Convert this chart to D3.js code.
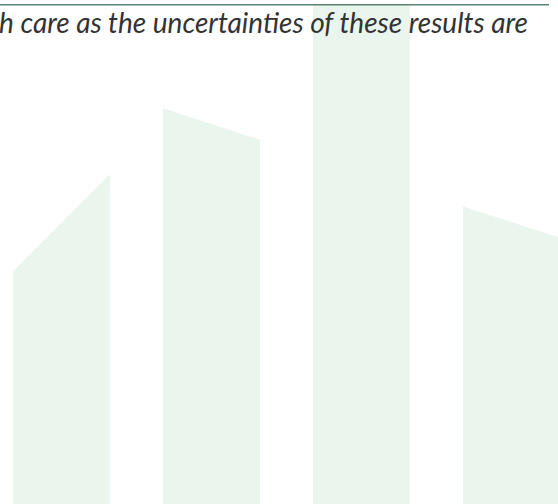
<!DOCTYPE html>
<meta charset="utf-8">
<script src="https://d3js.org/d3.v7.min.js"></script>
<style>
    body { margin: 0; background: #fff; }
</style>
<div id="my_dataviz"></div>
<script>
    const width = 558, height = 504;

    // background bars: each has a left and a right top height (slanted tops)
    const categories = ["A", "B", "C", "D"];
    const leftValues = [46.6, 79.3, 100, 59.6];
    const rightValues = [66.1, 73.0, 100, 53.4];
    const caption = "h care as the uncertainties of these results are";

    const svg = d3.select("#my_dataviz")
        .append("svg")
        .attr("width", width)
        .attr("height", height);

    const x = d3.scaleBand()
        .domain(categories)
        .range([13, 560])
        .paddingInner(0.3533)
        .paddingOuter(0);

    const y = d3.scaleLinear()
        .domain([0, 100])
        .range([height, 5]);

    const bars = categories.map((c, i) => ({cat: c, l: leftValues[i], r: rightValues[i]}));

    svg.append("g")
        .selectAll("path")
        .data(bars)
        .join("path")
        .attr("fill", "#eaf5ed")
        .attr("d", d => {
            const x0 = x(d.cat), x1 = x(d.cat) + x.bandwidth();
            return `M${x0},${y(0)}L${x0},${y(d.l)}L${x1},${y(d.r)}L${x1},${y(0)}Z`;
        });

    // rule at the top
    svg.append("line")
        .attr("x1", 0)
        .attr("x2", 549)
        .attr("y1", 4.8)
        .attr("y2", 4.8)
        .attr("stroke", "#5a8370")
        .attr("stroke-width", 1.5);

    svg.append("text")
        .attr("x", -1)
        .attr("y", 33)
        .style("font-family", "Lato, 'Open Sans', sans-serif")
        .style("font-style", "italic")
        .style("font-size", "28px")
        .attr("fill", "#333333")
        .text(caption);
</script>
